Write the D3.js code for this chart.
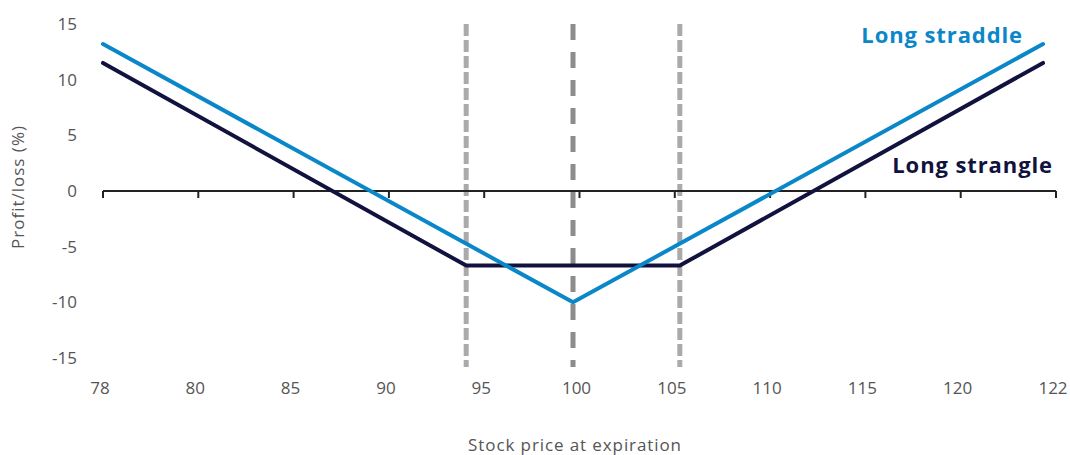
<!DOCTYPE html>
<html>
<head>
<meta charset="utf-8">
<script src="https://cdn.jsdelivr.net/npm/d3@7"></script>
<style>
  body { margin: 0; background: #fff; }
  text { font-family: "Open Sans", "Noto Sans", sans-serif; }
</style>
</head>
<body>
<div id="chart"></div>
<script>
// Category labels shown under the axis (evenly spaced in the original)
var tickLabels = ["78", "80", "85", "90", "95", "100", "105", "110", "115", "120", "122"];
var yTicks = [15, 10, 5, 0, -5, -10, -15];

// Payoff at expiration (profit/loss %) by stock price
var straddlePrices = [78, 100, 122];
var straddleValues = [13.2, -10, 13.2];
var stranglePrices = [78, 95, 105, 122];
var strangleValues = [11.5, -6.7, -6.7, 11.5];

// Strike markers
var strikes = [95, 100, 105];

var svgWidth = 1070;
var svgHeight = 455;

var svg = d3.select("#chart")
  .append("svg")
  .attr("width", svgWidth)
  .attr("height", svgHeight);

var xScale = d3.scaleLinear().domain([78, 122]).range([103, 1043]);
var yScale = d3.scaleLinear().domain([15, -15]).range([24, 358]);
var catScale = d3.scalePoint().domain(tickLabels).range([103, 1056]);

// y tick labels
svg.append("g").selectAll("text")
  .data(yTicks)
  .enter()
  .append("text")
  .attr("x", 77)
  .attr("y", d => yScale(d))
  .attr("dy", "0.36em")
  .attr("text-anchor", "end")
  .attr("font-size", "17px")
  .attr("fill", "#555")
  .text(d => d);

// x tick labels
svg.append("g").selectAll("text")
  .data(tickLabels)
  .enter()
  .append("text")
  .attr("x", d => catScale(d) - 3)
  .attr("y", 394)
  .attr("text-anchor", "middle")
  .attr("font-size", "17px")
  .attr("fill", "#555")
  .text(d => d);

// dashed strike lines
svg.append("g").selectAll("line")
  .data(strikes)
  .enter()
  .append("line")
  .attr("x1", d => xScale(d))
  .attr("x2", d => xScale(d))
  .attr("y1", yScale(15))
  .attr("y2", yScale(-15.8))
  .attr("stroke", d => d === 100 ? "#8c8c8c" : "#aaaaaa")
  .attr("stroke-width", 5)
  .attr("stroke-dasharray", d => d === 100 ? "16,12" : "12,4");

// zero axis line with ticks
var zeroY = yScale(0);
svg.append("line")
  .attr("x1", catScale.range()[0])
  .attr("x2", catScale.range()[1])
  .attr("y1", zeroY)
  .attr("y2", zeroY)
  .attr("stroke", "#222")
  .attr("stroke-width", 2);

svg.append("g").selectAll("line")
  .data(tickLabels)
  .enter()
  .append("line")
  .attr("x1", d => catScale(d))
  .attr("x2", d => catScale(d))
  .attr("y1", zeroY)
  .attr("y2", zeroY + 7)
  .attr("stroke", "#222")
  .attr("stroke-width", 2);

var line = d3.line()
  .x(d => xScale(d[0]))
  .y(d => yScale(d[1]));

svg.append("path")
  .datum(d3.zip(stranglePrices, strangleValues))
  .attr("d", line)
  .attr("fill", "none")
  .attr("stroke", "#12123f")
  .attr("stroke-width", 4)
  .attr("stroke-linecap", "round");

svg.append("path")
  .datum(d3.zip(straddlePrices, straddleValues))
  .attr("d", line)
  .attr("fill", "none")
  .attr("stroke", "#0a87c9")
  .attr("stroke-width", 4)
  .attr("stroke-linecap", "round");

// series labels
svg.append("text")
  .attr("x", 1023)
  .attr("y", 43)
  .attr("text-anchor", "end")
  .attr("font-size", "22px")
  .attr("font-weight", "bold")
  .attr("letter-spacing", "0.9px")
  .attr("fill", "#0a87c9")
  .text("Long straddle");

svg.append("text")
  .attr("x", 1053)
  .attr("y", 173)
  .attr("text-anchor", "end")
  .attr("font-size", "22px")
  .attr("font-weight", "bold")
  .attr("letter-spacing", "0.9px")
  .attr("fill", "#12123f")
  .text("Long strangle");

// axis titles
svg.append("text")
  .attr("x", 575)
  .attr("y", 451)
  .attr("text-anchor", "middle")
  .attr("font-size", "17px")
  .attr("letter-spacing", "0.9px")
  .attr("fill", "#555")
  .text("Stock price at expiration");

svg.append("text")
  .attr("transform", "translate(24, 187) rotate(-90)")
  .attr("text-anchor", "middle")
  .attr("font-size", "17px")
  .attr("letter-spacing", "1px")
  .attr("fill", "#555")
  .text("Profit/loss (%)");
</script>
</body>
</html>
